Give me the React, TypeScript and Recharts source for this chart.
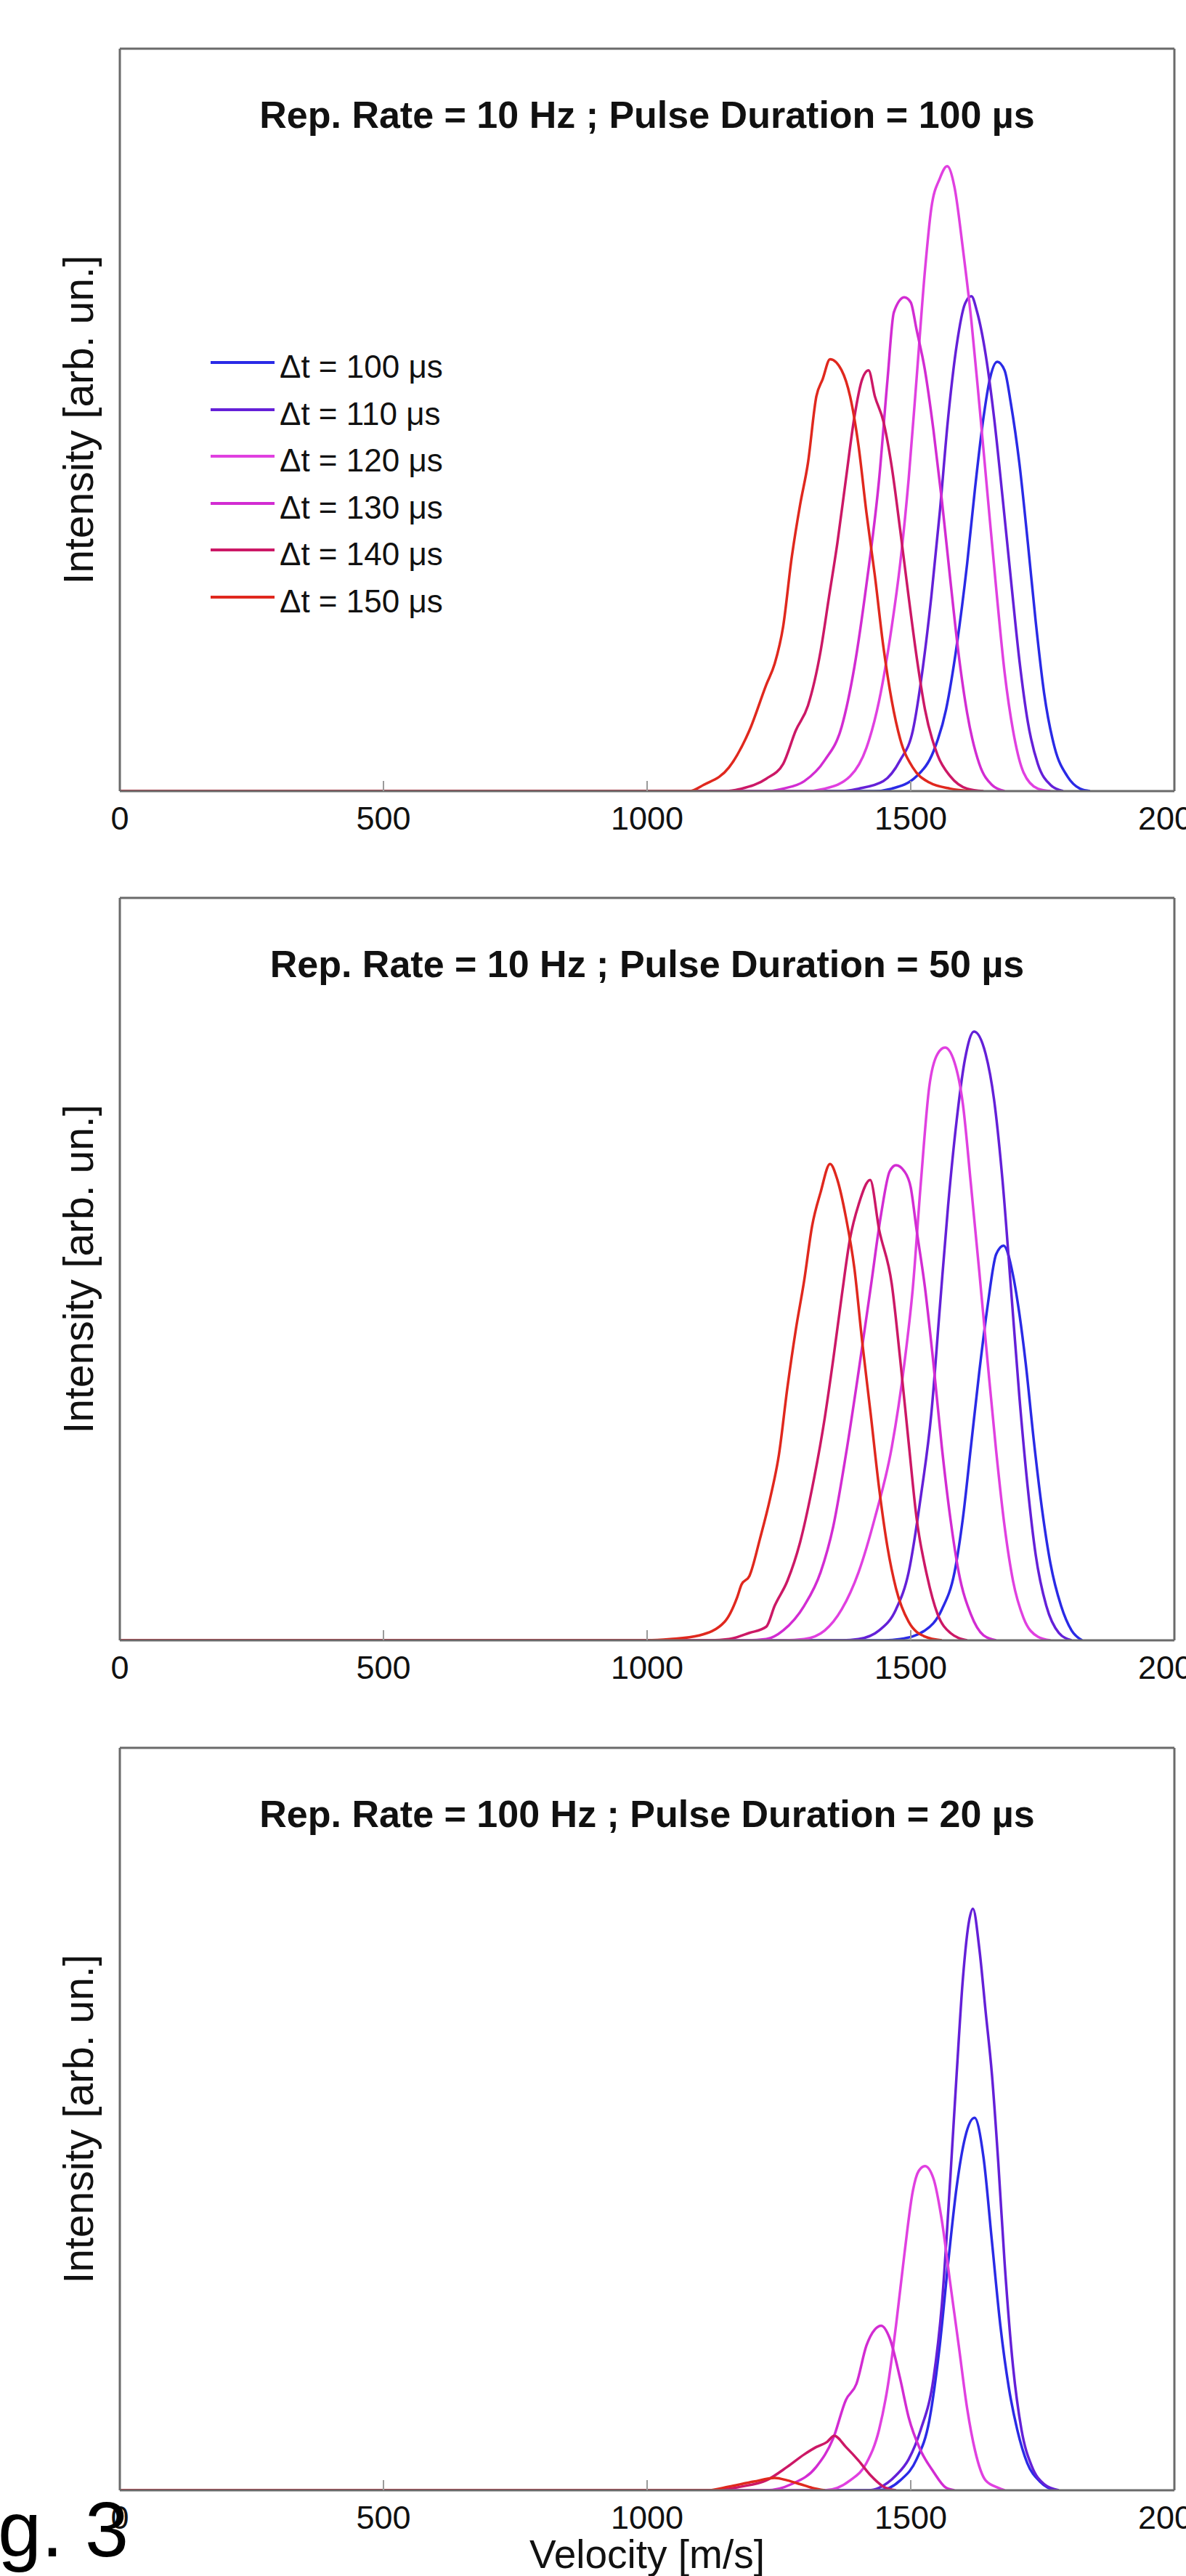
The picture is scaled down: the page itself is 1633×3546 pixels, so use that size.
import React from 'react';
import { LineChart, Line, XAxis, YAxis } from 'recharts';

const FONT = '"Liberation Sans", Arial, Helvetica, sans-serif';
const FRAME = '#6a6a6a';
const TICK = '#9a9a9a';

const X_TICKS = [0, 500, 1000, 1500, 2000];
const Y_TICKS = [0, 1, 2, 3, 4, 5, 6];

const DT_LABELS = ['Δt = 100 μs', 'Δt = 110 μs', 'Δt = 120 μs', 'Δt = 130 μs', 'Δt = 140 μs', 'Δt = 150 μs'];
const COLORS = ['#2a2ae6', '#6420d8', '#e040e0', '#d22cd2', '#cc1866', '#e0281e'];

const TITLES = [
  'Rep. Rate = 10 Hz ; Pulse Duration = 100 µs',
  'Rep. Rate = 10 Hz ; Pulse Duration = 50 µs',
  'Rep. Rate = 100 Hz ; Pulse Duration = 20 µs',
];

// ---- Panel 1: 10 Hz, 100 µs  ([velocity m/s, intensity arb. un.])
const P1_DT100 = [[0,0],[1430,0],[1464,0.02],[1511,0.12],[1543,0.32],[1567,0.66],[1587,1.17],[1607,1.84],[1622,2.45],[1638,3.02],[1650,3.33],[1664,3.47],[1678,3.4],[1690,3.13],[1706,2.65],[1722,2.01],[1737,1.37],[1753,0.79],[1773,0.35],[1797,0.12],[1821,0.02],[1840,0]];
const P1_DT110 = [[0,0],[1370,0],[1401,0.02],[1448,0.08],[1480,0.25],[1504,0.49],[1523,1.0],[1539,1.57],[1555,2.25],[1571,3.02],[1587,3.6],[1603,3.94],[1615,4.0],[1626,3.87],[1642,3.53],[1658,3.02],[1674,2.38],[1690,1.71],[1706,1.06],[1722,0.56],[1741,0.22],[1765,0.05],[1789,0]];
const P1_DT120 = [[0,0],[1300,0],[1337,0.02],[1385,0.12],[1416,0.35],[1440,0.73],[1464,1.33],[1480,1.84],[1496,2.52],[1511,3.33],[1527,4.21],[1539,4.71],[1555,4.95],[1569,5.05],[1583,4.88],[1599,4.38],[1615,3.8],[1630,3.13],[1646,2.38],[1662,1.64],[1678,0.96],[1694,0.49],[1714,0.15],[1741,0.02],[1765,0]];
const P1_DT130 = [[0,0],[1230,0],[1258,0.02],[1298,0.08],[1337,0.25],[1369,0.52],[1393,1.0],[1416,1.67],[1440,2.52],[1456,3.33],[1468,3.87],[1488,3.99],[1500,3.95],[1511,3.73],[1527,3.4],[1543,2.92],[1559,2.35],[1575,1.71],[1591,1.1],[1607,0.63],[1630,0.22],[1654,0.05],[1678,0]];
const P1_DT140 = [[0,0],[1150,0],[1179,0.02],[1226,0.1],[1258,0.22],[1282,0.49],[1305,0.69],[1329,1.13],[1345,1.57],[1361,2.01],[1377,2.52],[1393,3.02],[1408,3.33],[1420,3.4],[1432,3.19],[1448,2.99],[1464,2.62],[1480,2.11],[1496,1.57],[1512,1.06],[1527,0.66],[1551,0.29],[1575,0.12],[1607,0.02],[1638,0]];
const P1_DT150 = [[0,0],[1080,0],[1107,0.05],[1155,0.19],[1194,0.49],[1226,0.86],[1242,1.03],[1258,1.33],[1274,1.88],[1290,2.31],[1305,2.65],[1321,3.19],[1333,3.33],[1347,3.49],[1369,3.4],[1385,3.19],[1401,2.79],[1416,2.25],[1432,1.74],[1448,1.17],[1464,0.73],[1480,0.42],[1504,0.19],[1535,0.07],[1575,0.02],[1614,0]];

// ---- Panel 2: 10 Hz, 50 µs
const P2_DT100 = [[0,0],[1450,0],[1480,0.01],[1527,0.08],[1559,0.25],[1583,0.55],[1599,0.99],[1614,1.56],[1630,2.17],[1646,2.71],[1662,3.12],[1676,3.19],[1694,2.95],[1706,2.64],[1718,2.24],[1733,1.63],[1749,1.06],[1765,0.62],[1785,0.28],[1805,0.08],[1825,0]];
const P2_DT110 = [[0,0],[1370,0],[1401,0.01],[1440,0.08],[1472,0.25],[1496,0.55],[1519,1.16],[1539,1.83],[1555,2.68],[1571,3.52],[1587,4.2],[1603,4.7],[1620,4.92],[1642,4.74],[1658,4.37],[1674,3.72],[1690,2.85],[1706,1.97],[1722,1.23],[1737,0.69],[1757,0.28],[1781,0.06],[1805,0]];
const P2_DT120 = [[0,0],[1260,0],[1298,0.01],[1337,0.08],[1369,0.25],[1401,0.55],[1432,0.99],[1464,1.56],[1488,2.24],[1504,2.85],[1519,3.69],[1535,4.47],[1551,4.74],[1565,4.79],[1583,4.67],[1599,4.33],[1614,3.69],[1630,2.98],[1646,2.24],[1662,1.53],[1678,0.92],[1694,0.48],[1714,0.18],[1741,0.03],[1765,0]];
const P2_DT130 = [[0,0],[1190,0],[1226,0.01],[1258,0.08],[1298,0.28],[1329,0.55],[1353,0.92],[1377,1.5],[1401,2.17],[1424,2.85],[1444,3.45],[1460,3.79],[1472,3.84],[1488,3.79],[1500,3.66],[1511,3.32],[1527,2.85],[1543,2.24],[1559,1.56],[1575,0.99],[1591,0.55],[1614,0.21],[1638,0.04],[1662,0]];
const P2_DT140 = [[0,0],[1120,0],[1155,0.01],[1194,0.06],[1226,0.11],[1242,0.28],[1266,0.48],[1290,0.79],[1313,1.23],[1337,1.8],[1353,2.27],[1369,2.78],[1385,3.25],[1401,3.52],[1423,3.72],[1440,3.32],[1464,2.88],[1480,2.27],[1496,1.6],[1511,0.99],[1531,0.52],[1551,0.21],[1575,0.06],[1607,0]];
const P2_DT150 = [[0,0],[1000,0],[1044,0.01],[1099,0.04],[1147,0.15],[1171,0.35],[1179,0.45],[1194,0.52],[1214,0.82],[1234,1.16],[1250,1.5],[1266,2.04],[1282,2.51],[1298,2.91],[1313,3.35],[1329,3.62],[1347,3.85],[1361,3.72],[1377,3.42],[1393,3.01],[1408,2.41],[1424,1.83],[1440,1.23],[1456,0.75],[1472,0.42],[1496,0.15],[1527,0.03],[1559,0]];

// ---- Panel 3: 100 Hz, 20 µs
const P3_DT100 = [[0,0],[1440,0],[1480,0.08],[1511,0.25],[1535,0.56],[1555,1.17],[1571,1.84],[1587,2.45],[1603,2.85],[1621,3.01],[1638,2.69],[1654,2.01],[1670,1.33],[1686,0.83],[1702,0.49],[1721,0.22],[1745,0.07],[1773,0]];
const P3_DT110 = [[0,0],[1420,0],[1440,0.02],[1472,0.12],[1496,0.25],[1519,0.49],[1543,0.9],[1559,1.5],[1575,2.52],[1587,3.36],[1599,4.14],[1611,4.61],[1618,4.7],[1630,4.38],[1642,3.87],[1654,3.36],[1666,2.65],[1678,1.84],[1694,1.0],[1710,0.49],[1730,0.19],[1753,0.05],[1781,0]];
const P3_DT120 = [[0,0],[1337,0],[1385,0.08],[1416,0.22],[1440,0.49],[1456,0.83],[1472,1.33],[1488,1.91],[1504,2.42],[1515,2.58],[1527,2.62],[1543,2.52],[1559,2.18],[1575,1.67],[1591,1.17],[1607,0.66],[1622,0.32],[1642,0.08],[1666,0.02],[1678,0]];
const P3_DT130 = [[0,0],[1226,0],[1274,0.05],[1321,0.19],[1353,0.42],[1377,0.73],[1397,0.86],[1416,1.17],[1432,1.3],[1444,1.33],[1460,1.23],[1480,0.9],[1496,0.59],[1519,0.32],[1543,0.15],[1567,0.02],[1583,0]];
const P3_DT140 = [[0,0],[1115,0],[1179,0.03],[1226,0.08],[1266,0.19],[1298,0.29],[1321,0.35],[1341,0.39],[1355,0.44],[1377,0.35],[1401,0.24],[1424,0.12],[1448,0.03],[1472,0]];
const P3_DT150 = [[0,0],[1115,0],[1155,0.03],[1202,0.07],[1242,0.1],[1266,0.08],[1290,0.05],[1313,0.02],[1337,0]];

const PANELS = [
  { top: 67, title: TITLES[0], series: [P1_DT100, P1_DT110, P1_DT120, P1_DT130, P1_DT140, P1_DT150] },
  { top: 1236, title: TITLES[1], series: [P2_DT100, P2_DT110, P2_DT120, P2_DT130, P2_DT140, P2_DT150] },
  { top: 2406, title: TITLES[2], series: [P3_DT100, P3_DT110, P3_DT120, P3_DT130, P3_DT140, P3_DT150] },
];

const W = 1633;
const PLOT_LEFT = 165;
const PLOT_RIGHT = 1617;
const PLOT_H = 1022;
const TOP_PAD = 20;
const BOTTOM_AX = 100;

function Panel({ top, series }: { top: number; series: number[][][] }) {
  const h = TOP_PAD + PLOT_H + BOTTOM_AX;
  return (
    <div style={{ position: 'absolute', left: 0, top: top - TOP_PAD, width: W, height: h }}>
      <LineChart width={W} height={h} margin={{ top: 0, right: 0, bottom: 0, left: 0 }}>
        <XAxis
          xAxisId="b"
          type="number"
          dataKey="v"
          orientation="bottom"
          domain={[0, 2000]}
          ticks={X_TICKS}
          interval={0}
          height={BOTTOM_AX}
          tickSize={-14}
          tickMargin={35}
          axisLine={{ stroke: FRAME, strokeWidth: 3 }}
          tickLine={{ stroke: TICK, strokeWidth: 2 }}
          tick={{ fontSize: 45, fill: '#111', fontFamily: FONT }}
          allowDataOverflow
        />
        <XAxis
          xAxisId="t"
          type="number"
          dataKey="v"
          orientation="top"
          domain={[0, 2000]}
          ticks={X_TICKS}
          interval={0}
          height={TOP_PAD}
          tickSize={-14}
          tick={false}
          axisLine={{ stroke: FRAME, strokeWidth: 3 }}
          tickLine={{ stroke: TICK, strokeWidth: 2 }}
          allowDataOverflow
        />
        <YAxis
          yAxisId="l"
          type="number"
          orientation="left"
          domain={[0, 6]}
          ticks={Y_TICKS}
          interval={0}
          width={PLOT_LEFT}
          tickSize={-14}
          tick={false}
          axisLine={{ stroke: FRAME, strokeWidth: 3 }}
          tickLine={{ stroke: TICK, strokeWidth: 2 }}
          allowDataOverflow
        />
        <YAxis
          yAxisId="r"
          type="number"
          orientation="right"
          domain={[0, 6]}
          ticks={Y_TICKS}
          interval={0}
          width={W - PLOT_RIGHT}
          tickSize={-14}
          tick={false}
          axisLine={{ stroke: FRAME, strokeWidth: 3 }}
          tickLine={{ stroke: TICK, strokeWidth: 2 }}
          allowDataOverflow
        />
        {series.map((s, i) => (
          <Line
            key={i}
            xAxisId="b"
            yAxisId="l"
            name={DT_LABELS[i]}
            data={s.map(([v, y]) => ({ v, y }))}
            dataKey="y"
            type="monotone"
            stroke={COLORS[i]}
            strokeWidth={3.5}
            dot={false}
            activeDot={false}
            isAnimationActive={false}
          />
        ))}
      </LineChart>
    </div>
  );
}

export default function App() {
  const cx = (PLOT_LEFT + PLOT_RIGHT) / 2;
  const legendRows = [499, 564, 628, 693, 757, 822];
  return (
    <div style={{ position: 'absolute', left: 0, top: 0, width: W, height: 3546, background: '#fff', overflow: 'hidden' }}>
      {PANELS.map((p, i) => (
        <Panel key={i} top={p.top} series={p.series} />
      ))}
      <svg width={W} height={3546} style={{ position: 'absolute', left: 0, top: 0, pointerEvents: 'none' }}>
        {PANELS.map((p, i) => (
          <g key={i}>
            <text x={cx} y={p.top + 109} textAnchor="middle" fontSize={52} fontWeight="bold" fontFamily={FONT} fill="#111">
              {p.title}
            </text>
            <text
              transform={`translate(128, ${p.top + PLOT_H / 2}) rotate(-90)`}
              textAnchor="middle"
              fontSize={57}
              fontFamily={FONT}
              fill="#111"
            >
              Intensity [arb. un.]
            </text>
          </g>
        ))}
        {DT_LABELS.map((lab, i) => (
          <g key={lab}>
            <line x1={290} x2={378} y1={legendRows[i]} y2={legendRows[i]} stroke={COLORS[i]} strokeWidth={4} />
            <text x={385} y={legendRows[i] + 21} fontSize={44} fontFamily={FONT} fill="#111">
              {lab}
            </text>
          </g>
        ))}
        <text x={cx} y={3535} textAnchor="middle" fontSize={55} fontFamily={FONT} fill="#111">
          Velocity [m/s]
        </text>
        <text x={-93} y={3519} fontSize={108} fontFamily={FONT} fill="#000">
          Fig. 3
        </text>
      </svg>
    </div>
  );
}
